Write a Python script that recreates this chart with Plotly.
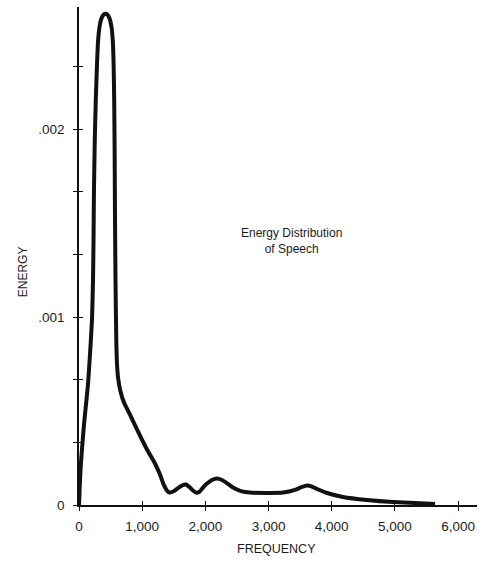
import plotly.graph_objects as go

# Spectral energy of speech as a function of frequency (Hz)
frequency = [0, 10, 24, 47, 79, 111, 142, 174, 206, 222, 230, 237, 250, 266,
             285, 301, 325, 356, 388, 420, 451, 483, 514, 536, 548, 557, 564,
             570, 578, 590, 602, 622, 657, 712, 807, 918, 1076, 1203, 1282,
             1346, 1393, 1441, 1504, 1567, 1630, 1694, 1757, 1805, 1852, 1900,
             1963, 2026, 2105, 2184, 2264, 2359, 2438, 2564, 2707, 3024, 3229,
             3419, 3530, 3609, 3688, 3768, 3926, 4179, 4559, 4971, 5319, 5635]
energy = [0.0, 0.000082, 0.000189, 0.000295, 0.000428, 0.000535, 0.000641,
          0.000801, 0.000987, 0.001199, 0.001412, 0.001678, 0.001944,
          0.002157, 0.002343, 0.002465, 0.002545, 0.002590, 0.002609,
          0.002614, 0.002609, 0.002590, 0.002545, 0.002465, 0.002343,
          0.002157, 0.001891, 0.001519, 0.001199, 0.000880, 0.000747,
          0.000668, 0.000604, 0.000545, 0.000481, 0.000402, 0.000295,
          0.000221, 0.000162, 0.000104, 0.000077, 0.000066, 0.000074,
          0.000090, 0.000104, 0.000109, 0.000093, 0.000077, 0.000066,
          0.000069, 0.000093, 0.000114, 0.000133, 0.000141, 0.000133,
          0.000112, 0.000093, 0.000074, 0.000066, 0.000064, 0.000066,
          0.000080, 0.000096, 0.000104, 0.000098, 0.000085, 0.000064,
          0.000043, 0.000027, 0.000016, 0.000011, 0.000005]

x_tick_values = [0, 1000, 2000, 3000, 4000, 5000, 6000]
x_tick_labels = ["0", "1,000", "2,000", "3,000", "4,000", "5,000", "6,000"]
y_tick_values = [0, 0.001 / 3, 0.002 / 3, 0.001, 0.004 / 3, 0.005 / 3,
                 0.002, 0.007 / 3]
y_tick_labels = ["0", "", "", ".001", "", "", ".002", ""]

X_RANGE = [0, 6300]
Y_RANGE = [0, 0.00265]

INK = "#111111"
TEXT = "#1c1c1c"
FONT = "Liberation Sans"

fig = go.Figure()
fig.add_trace(go.Scatter(
    x=frequency, y=energy, mode="lines",
    line=dict(color=INK, width=4, shape="spline", smoothing=0.5),
    hoverinfo="skip", showlegend=False,
))

axis_common = dict(showgrid=False, zeroline=False, showline=True,
                   linecolor=INK, linewidth=1.6, tickcolor=INK,
                   tickwidth=1.3, ticklen=4)

fig.update_layout(
    width=491, height=561,
    margin=dict(l=79, r=14, t=7, b=56),
    paper_bgcolor="white", plot_bgcolor="white",
    font=dict(family=FONT, size=13.5, color=TEXT),
    xaxis=dict(range=X_RANGE, tickvals=x_tick_values, ticktext=x_tick_labels,
               ticks="outside", ticklabelstandoff=4, **axis_common),
    yaxis=dict(range=Y_RANGE, tickvals=y_tick_values, ticktext=y_tick_labels,
               ticks="outside", ticklabelstandoff=6, **axis_common),
    # mirrored copies carry the inner half of each cross-shaped tick
    xaxis2=dict(range=X_RANGE, overlaying="x", tickvals=x_tick_values[1:],
                showticklabels=False, ticks="inside", **axis_common),
    yaxis2=dict(range=Y_RANGE, overlaying="y", tickvals=y_tick_values[1:],
                showticklabels=False, ticks="inside", **axis_common),
    annotations=[
        dict(text="ENERGY", textangle=-90, xref="paper", yref="paper",
             x=-0.14, y=0.468, xanchor="center", yanchor="middle",
             showarrow=False, font=dict(family=FONT, size=12, color=TEXT)),
        dict(text="FREQUENCY", xref="paper", yref="paper",
             x=0.497, y=-0.088, xanchor="center", yanchor="middle",
             showarrow=False, font=dict(family=FONT, size=12.5, color=TEXT)),
        dict(text="Energy Distribution<br>of Speech", xref="paper",
             yref="paper", x=0.533, y=0.531, xanchor="center",
             yanchor="middle", showarrow=False, align="center",
             font=dict(family=FONT, size=12, color=TEXT)),
    ],
)

# invisible trace that activates the mirrored axes
fig.add_trace(go.Scatter(x=[None], y=[None], xaxis="x2", yaxis="y2",
                         showlegend=False, hoverinfo="skip"))

fig.write_html("out.html")
